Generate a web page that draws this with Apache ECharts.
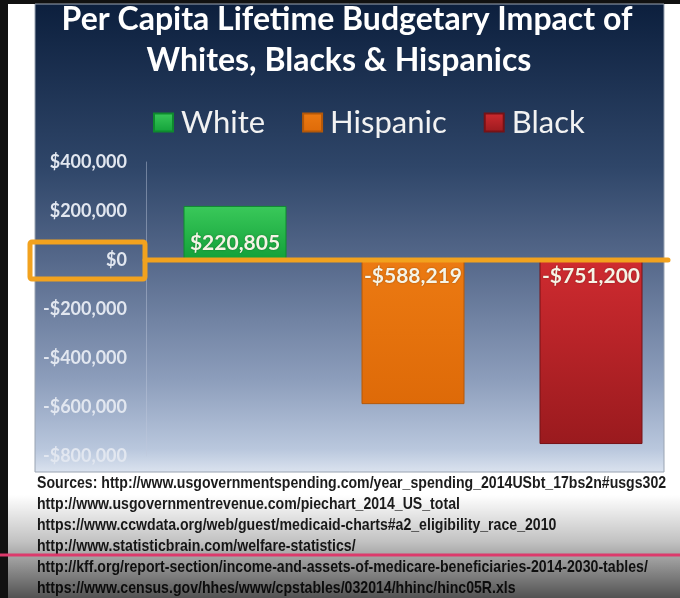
<!DOCTYPE html>
<html>
<head>
<meta charset="utf-8">
<script src="https://cdn.jsdelivr.net/npm/echarts@6/dist/echarts.min.js"></script>
<style>
  html, body { margin: 0; padding: 0; background: #fff; }
  #chart { width: 680px; height: 598px; }
</style>
</head>
<body>
<div id="chart"></div>
<script>
// data
const categories = ['White', 'Hispanic', 'Black'];
const impactValues = [220805, -588219, -751200];
const yMin = -800000;
const yMax = 400000;
const yInterval = 200000;
const titleLines = ['Per Capita Lifetime Budgetary Impact of', 'Whites, Blacks & Hispanics'];
const sourceLines = [
  'Sources: http://www.usgovernmentspending.com/year_spending_2014USbt_17bs2n#usgs302',
  'http://www.usgovernmentrevenue.com/piechart_2014_US_total',
  'https://www.ccwdata.org/web/guest/medicaid-charts#a2_eligibility_race_2010',
  'http://www.statisticbrain.com/welfare-statistics/',
  'http://kff.org/report-section/income-and-assets-of-medicare-beneficiaries-2014-2030-tables/',
  'https://www.census.gov/hhes/www/cpstables/032014/hhinc/hinc05R.xls'
];

const barColors = [
  { top: '#3ac95a', bottom: '#12a039', border: '#0e8a2e' },
  { top: '#ec7a12', bottom: '#de6a08', border: '#b45808' },
  { top: '#cf2b30', bottom: '#9a1a1e', border: '#761216' }
];
const orange = '#f2a21e';
const font = 'Lato, "Open Sans", sans-serif';

function money(v) {
  const s = '$' + Math.abs(v).toLocaleString('en-US');
  return v < 0 ? '-' + s : s;
}

const chart = echarts.init(document.getElementById('chart'));

const series = categories.map((name, i) => ({
  name: name,
  type: 'bar',
  stack: 'all',
  barWidth: 103,
  data: categories.map((c, j) => (j === i ? impactValues[i] : '-')),
  itemStyle: {
    color: new echarts.graphic.LinearGradient(0, 0, 0, 1, [
      { offset: 0, color: barColors[i].top },
      { offset: 1, color: barColors[i].bottom }
    ]),
    borderColor: barColors[i].border,
    borderWidth: 1
  },
  label: {
    show: true,
    position: impactValues[i] >= 0 ? 'insideBottom' : 'insideTop',
    distance: 6,
    formatter: (p) => money(p.value),
    color: '#f6f4e6',
    fontFamily: font,
    fontWeight: 'bold',
    fontSize: 21,
    textShadowColor: 'rgba(0,0,0,0.35)',
    textShadowBlur: 2
  }
}));

chart.setOption({
  animation: false,
  legend: {
    data: categories,
    left: 148,
    top: 102,
    itemWidth: 19,
    itemHeight: 18,
    itemGap: 37,
    icon: 'rect',
    textStyle: { color: '#f2f2f2', fontSize: 31, fontFamily: font, padding: [0, 0, 0, 3] }
  },
  grid: { left: 146, top: 162, width: 540, height: 294, containLabel: false },
  xAxis: {
    type: 'category',
    data: categories,
    axisLine: { show: false },
    axisTick: { show: false },
    axisLabel: { show: false }
  },
  yAxis: {
    type: 'value',
    min: yMin,
    max: yMax,
    interval: yInterval,
    axisLine: { show: true, lineStyle: { color: 'rgba(190,200,220,0.45)', width: 1 } },
    axisTick: { show: false },
    splitLine: { show: false },
    axisLabel: {
      margin: 19,
      color: '#e2e7f0',
      fontFamily: font,
      fontWeight: 'bold',
      fontSize: 18,
      formatter: money
    }
  },
  series: series
});

// decorations around the chart, zero line placed from the axis scale
const y0 = chart.convertToPixel({ yAxisIndex: 0 }, 0);
const x0 = chart.convertToPixel({ xAxisIndex: 0 }, categories[0]) - 90;

const graphics = [
  { type: 'rect', z: -10, shape: { x: 0, y: 0, width: 680, height: 598 }, style: { fill: '#ffffff' } },
  { type: 'rect', z: -9, shape: { x: 0, y: 0, width: 680, height: 4 }, style: { fill: '#111' } },
  { type: 'rect', z: -9, shape: { x: 0, y: 0, width: 8, height: 598 }, style: { fill: '#111' } },
  {
    type: 'rect', z: -8,
    shape: { x: 35, y: 4, width: 629, height: 468 },
    style: {
      fill: new echarts.graphic.LinearGradient(0, 0, 0, 1, [
        { offset: 0, color: '#0c1f3d' },
        { offset: 0.35, color: '#2f4669' },
        { offset: 0.55, color: '#56698b' },
        { offset: 0.8, color: '#8c9dbb' },
        { offset: 0.95, color: '#b9c7dd' },
        { offset: 1, color: '#dbe3ef' }
      ]),
      stroke: '#9aa4b2', lineWidth: 1
    }
  },
  {
    type: 'text', z: 10, x: 347, y: 4,
    style: { text: titleLines[0], fill: '#ffffff', font: 'bold 32px ' + font, textAlign: 'center' }
  },
  {
    type: 'text', z: 10, x: 339, y: 45,
    style: { text: titleLines[1], fill: '#ffffff', font: 'bold 32px ' + font, textAlign: 'center' }
  },
  {
    type: 'line', z: 20,
    shape: { x1: x0, y1: y0, x2: 668, y2: y0 },
    style: { stroke: orange, lineWidth: 5, lineCap: 'round' }
  },
  {
    type: 'rect', z: 20,
    shape: { x: 30, y: y0 - 18, width: 115, height: 37, r: 2 },
    style: { fill: 'none', stroke: orange, lineWidth: 5 }
  }
];

sourceLines.forEach((line, i) => {
  graphics.push({
    type: 'text', z: 10, x: 37, y: 475 + i * 21, scaleX: 0.83,
    style: {
      text: line, fill: '#1c1c1c',
      font: 'bold 17px "Liberation Sans", Arial, sans-serif'
    }
  });
});

graphics.push(
  {
    type: 'rect', z: 30, silent: true,
    shape: { x: 8, y: 495, width: 672, height: 103 },
    style: {
      fill: new echarts.graphic.LinearGradient(0, 0, 0, 1, [
        { offset: 0, color: 'rgba(0,0,0,0)' },
        { offset: 0.45, color: 'rgba(0,0,0,0.24)' },
        { offset: 1, color: 'rgba(0,0,0,0.68)' }
      ])
    }
  },
  {
    type: 'line', z: 31,
    shape: { x1: 0, y1: 555, x2: 680, y2: 555 },
    style: { stroke: '#dc3a6c', lineWidth: 3 }
  }
);

chart.setOption({ graphic: graphics });
</script>
</body>
</html>
